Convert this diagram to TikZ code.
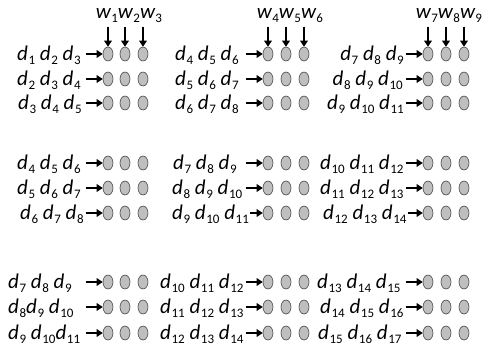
\documentclass[tikz,border=0pt]{standalone}
\usepackage{fontspec}
\setmainfont{Carlito}
\usetikzlibrary{arrows.meta,shapes.geometric,calc}
\newcommand\dv[1]{{\itshape d}\kern0.03em\raisebox{-0.2em}{\fontsize{13}{13}\selectfont\upshape #1}}
\newcommand\wv[1]{{\itshape w}\kern0.02em\raisebox{-0.2em}{\fontsize{13}{13}\selectfont\upshape #1}}
\definecolor{ellfill}{HTML}{BFBFBF}
\definecolor{elldraw}{HTML}{404040}
\tikzset{
  ell/.style={ellipse,draw=elldraw,fill=ellfill,line width=0.6pt,minimum width=10pt,minimum height=14pt,inner sep=0pt},
  lab/.style={anchor=base west,inner sep=0pt,font=\fontsize{21}{21}\selectfont},
  labr/.style={anchor=base east,inner sep=0pt,font=\fontsize{21}{21}\selectfont},
  wlab/.style={anchor=base,inner sep=0pt,font=\fontsize{21}{21}\selectfont},
  harrow/.style={-{Triangle[length=6pt,width=7.5pt]},line width=1.6pt,black},
}
\begin{document}
\begin{tikzpicture}[x=1pt,y=-1pt]
\useasboundingbox (0,0) rectangle (484,346);
% ellipses
\foreach \c/\xa/\xb/\xc in {1/108/125/143, 2/268/286/304, 3/428/446/464}{
  \foreach \r/\y in {1/54,2/79,3/103,4/163,5/188,6/213,7/282,8/307,9/333}{
    \node[ell] (e\c\r1) at (\xa,\y) {};
    \node[ell] (e\c\r2) at (\xb,\y) {};
    \node[ell] (e\c\r3) at (\xc,\y) {};
  }
}
% weight labels and down arrows
\node[wlab] (w1) at (129,18) {\wv{1}\wv{2}\wv{3}};
\node[wlab] (w2) at (290,18) {\wv{4}\wv{5}\wv{6}};
\node[wlab] (w3) at (449,18) {\wv{7}\wv{8}\wv{9}};
\foreach \c in {1,2,3}{
  \foreach \k in {1,2,3}{
    \coordinate (t\c\k) at ([yshift=20pt]e\c1\k.north);
    \draw[harrow] (t\c\k) -- (e\c1\k.north);
  }
}
% row labels: top band
\node[lab] (l11) at (17,60) {\dv{1} \dv{2} \dv{3}};
\node[lab] (l12) at (17,85) {\dv{2} \dv{3} \dv{4}};
\node[lab] (l13) at (18,109) {\dv{3} \dv{4} \dv{5}};
\node[lab] (l21) at (175,60) {\dv{4} \dv{5} \dv{6}};
\node[lab] (l22) at (175,85) {\dv{5} \dv{6} \dv{7}};
\node[lab] (l23) at (175,109) {\dv{6} \dv{7} \dv{8}};
\node[labr] (l31) at (404,60) {\dv{7} \dv{8} \dv{9}};
\node[labr] (l32) at (403,85) {\dv{8} \dv{9} \dv{10}};
\node[labr] (l33) at (404,109) {\dv{9} \dv{10} \dv{11}};
% middle band
\node[lab] (l14) at (17,169) {\dv{4} \dv{5} \dv{6}};
\node[lab] (l15) at (17,194) {\dv{5} \dv{6} \dv{7}};
\node[lab] (l16) at (20,219) {\dv{6} \dv{7} \dv{8}};
\node[lab] (l24) at (173,169) {\dv{7} \dv{8} \dv{9}};
\node[lab] (l25) at (172,194) {\dv{8} \dv{9} \dv{10}};
\node[lab] (l26) at (172,219) {\dv{9} \dv{10} \dv{11}};
\node[lab] (l34) at (320,169) {\dv{10} \dv{11} \dv{12}};
\node[lab] (l35) at (320,194) {\dv{11} \dv{12} \dv{13}};
\node[lab] (l36) at (323,219) {\dv{12} \dv{13} \dv{14}};
% bottom band
\node[lab] (l17) at (8,288) {\dv{7} \dv{8} \dv{9}};
\node[lab] (l18) at (8,313) {\dv{8}\dv{9} \dv{10}};
\node[lab] (l19) at (8,339) {\dv{9} \dv{10}\dv{11}};
\node[lab] (l27) at (160,288) {\dv{10} \dv{11} \dv{12}};
\node[lab] (l28) at (160,313) {\dv{11} \dv{12} \dv{13}};
\node[lab] (l29) at (160,339) {\dv{12} \dv{13} \dv{14}};
\node[lab] (l37) at (317,288) {\dv{13} \dv{14} \dv{15}};
\node[lab] (l38) at (320,313) {\dv{14} \dv{15} \dv{16}};
\node[lab] (l39) at (318,339) {\dv{15} \dv{16} \dv{17}};
% row arrows: start just after the label, at most 17pt before the ellipse
\foreach \c in {1,2,3}{
  \foreach \r in {1,...,9}{
    \path let \p1=(l\c\r.east), \p2=(e\c\r1.west) in
      coordinate (s\c\r) at ({max(\x1+1pt,\x2-17pt)},\y2);
    \draw[harrow] (s\c\r) -- (e\c\r1.west);
  }
}
\end{tikzpicture}
\end{document}
